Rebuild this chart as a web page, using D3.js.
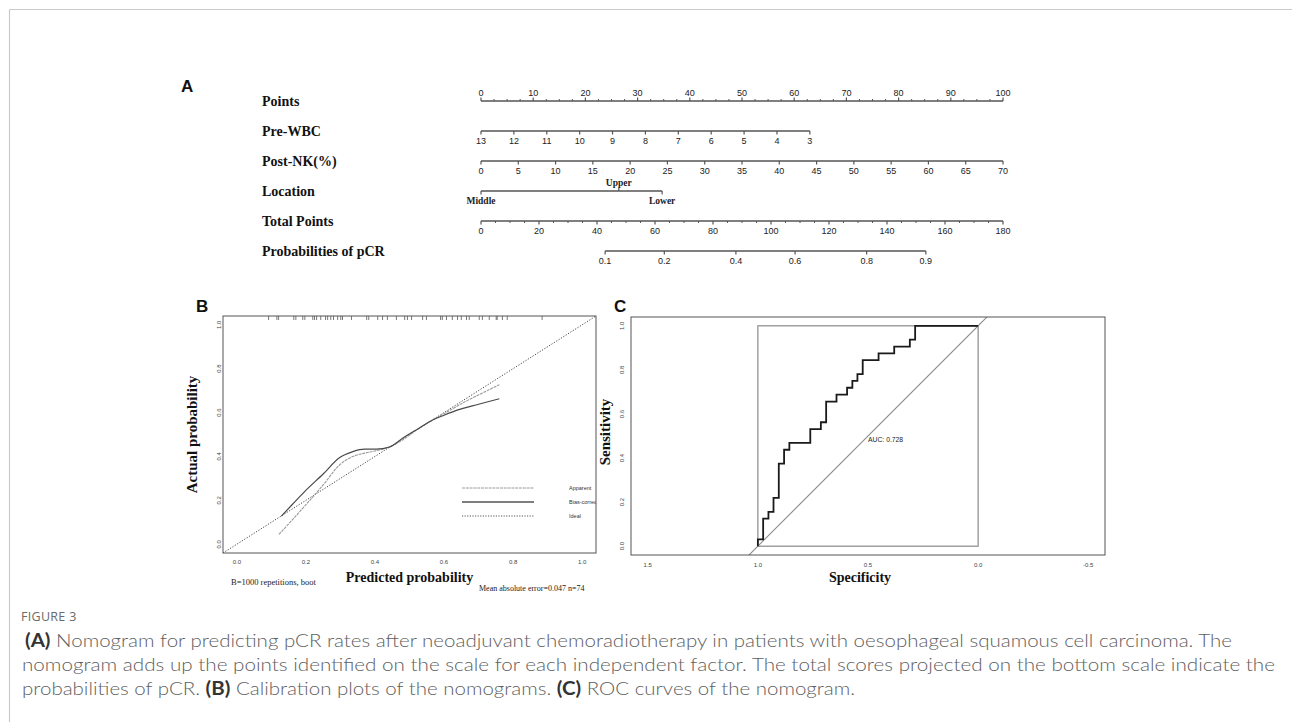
<!DOCTYPE html>
<html><head><meta charset="utf-8">
<script src="https://cdn.jsdelivr.net/npm/d3@7"></script>
<style>
html,body{margin:0;padding:0;background:#fff;}
svg{display:block;}
</style></head>
<body><svg id="chart" width="1292" height="722"></svg>
<script>
// ================= DATA =================
// Panel A: nomogram
const nomoRows = ["Points", "Pre-WBC", "Post-NK(%)", "Location", "Total Points", "Probabilities of pCR"];
const pointsTicks = [0, 10, 20, 30, 40, 50, 60, 70, 80, 90, 100];
const pointsMinorStep = 2.5;
const preWBCTicks = [13, 12, 11, 10, 9, 8, 7, 6, 5, 4, 3];
const preWBCMaxPoints = 63;          // points reached at Pre-WBC = 3
const postNKTicks = [0, 5, 10, 15, 20, 25, 30, 35, 40, 45, 50, 55, 60, 65, 70];
const postNKMaxPoints = 100;         // points reached at Post-NK = 70
const locationLevels = ["Middle", "Upper", "Lower"];
const locationPoints = [0, 26.4, 34.7];
const locationSide = ["below", "above", "below"];
const totalTicks = [0, 20, 40, 60, 80, 100, 120, 140, 160, 180];
const totalMinorStep = 5;
const probTicks = [0.1, 0.2, 0.4, 0.6, 0.8, 0.9];
const probTotalAt = [42.8, 153.4];   // total points where p = 0.1 and p = 0.9

// Panel B: calibration
const calibTicks = [0, 0.2, 0.4, 0.6, 0.8, 1.0];
const apparentX = [0.122, 0.16, 0.20, 0.25, 0.298, 0.336, 0.37, 0.40, 0.442, 0.48, 0.52, 0.56, 0.60, 0.664, 0.71, 0.76];
const apparentY = [0.045, 0.11, 0.18, 0.27, 0.362, 0.40, 0.415, 0.425, 0.443, 0.475, 0.52, 0.56, 0.595, 0.652, 0.688, 0.727];
const biasX = [0.129, 0.16, 0.197, 0.25, 0.298, 0.336, 0.37, 0.404, 0.442, 0.48, 0.529, 0.567, 0.60, 0.64, 0.70, 0.76];
const biasY = [0.128, 0.18, 0.241, 0.32, 0.395, 0.422, 0.433, 0.433, 0.443, 0.483, 0.53, 0.566, 0.588, 0.612, 0.638, 0.663];
const rugX = [0.092, 0.116, 0.121, 0.165, 0.171, 0.191, 0.197, 0.220, 0.225, 0.231, 0.243, 0.257, 0.263, 0.272, 0.280,
  0.292, 0.301, 0.306, 0.332, 0.376, 0.382, 0.408, 0.422, 0.436, 0.462, 0.486, 0.494, 0.506, 0.538, 0.549, 0.590,
  0.595, 0.607, 0.624, 0.639, 0.650, 0.665, 0.673, 0.702, 0.711, 0.731, 0.751, 0.754, 0.769, 0.783, 0.884];
const legendLabels = ["Apparent", "Bias-corrected", "Ideal"];
const calibNote = "B=1000 repetitions, boot";
const calibError = "Mean absolute error=0.047 n=74";

// Panel C: ROC
const specTicks = [1.5, 1.0, 0.5, 0.0, -0.5];
const sensTicks = [0, 0.2, 0.4, 0.6, 0.8, 1.0];
const rocSpec = [1, 1, 0.976, 0.952, 0.929, 0.905, 0.881, 0.857, 0.762, 0.714, 0.690, 0.643, 0.595, 0.571, 0.548, 0.524, 0.452, 0.381, 0.310, 0.286, 0];
const rocSens = [0, 0.031, 0.125, 0.156, 0.219, 0.375, 0.4375, 0.469, 0.531, 0.5625, 0.656, 0.6875, 0.719, 0.75, 0.781, 0.844, 0.875, 0.906, 0.9375, 1.0, 1.0];
const aucLabel = "AUC: 0.728";

// Caption
const figLabel = "FIGURE 3";
const captionLines = [
  [["b", "(A)"], ["n", " Nomogram for predicting pCR rates after neoadjuvant chemoradiotherapy in patients with oesophageal squamous cell carcinoma. The"]],
  [["n", "nomogram adds up the points identified on the scale for each independent factor. The total scores projected on the bottom scale indicate the"]],
  [["n", "probabilities of pCR. "], ["b", "(B)"], ["n", " Calibration plots of the nomograms. "], ["b", "(C)"], ["n", " ROC curves of the nomogram."]]
];

// ================= DRAW =================
const svg = d3.select("#chart");
const SERIF = "'Liberation Serif','Times New Roman',serif";
const SANS = "'Liberation Sans',Arial,sans-serif";
const CAPFONT = "Lato,'Open Sans',sans-serif";

// page border
svg.append("line").attr("x1", 9.5).attr("x2", 1292).attr("y1", 9.5).attr("y2", 9.5).attr("stroke", "#cacaca").attr("stroke-width", 1.2);
svg.append("line").attr("x1", 9.5).attr("x2", 9.5).attr("y1", 9.5).attr("y2", 722).attr("stroke", "#cacaca").attr("stroke-width", 1.2);

// panel letters
function panelLetter(t, x, y) {
  svg.append("text").attr("x", x).attr("y", y).text(t)
    .attr("font-family", SANS).attr("font-weight", "bold").attr("font-size", 17).attr("fill", "#111");
}
panelLetter("A", 181, 92);
panelLetter("B", 196, 312);
panelLetter("C", 614, 312);

// ---------- Panel A ----------
const ptsX = d3.scaleLinear().domain([0, 100]).range([481, 1003]);
const totX = d3.scaleLinear().domain([0, 180]).range([481, 1003]);
const rowY = d3.scalePoint().domain(nomoRows).range([101, 251]);
const wbcPts = d3.scaleLinear().domain([13, 3]).range([0, preWBCMaxPoints]);
const nkPts = d3.scaleLinear().domain([0, 70]).range([0, postNKMaxPoints]);
const logit = p => Math.log(p / (1 - p));
const probTot = d3.scaleLinear().domain([logit(0.1), logit(0.9)]).range(probTotalAt);

const gA = svg.append("g");
nomoRows.forEach(r => {
  gA.append("text").attr("x", 262).attr("y", rowY(r) + 5).text(r)
    .attr("font-family", SERIF).attr("font-weight", "bold").attr("font-size", 14).attr("fill", "#111");
});

const AX_COL = "#555";
function nomoAxis(y, ticks, minors, fontFamily, fontWeight, fontSize) {
  const g = gA.append("g");
  const xs = ticks.map(t => t.x);
  g.append("line").attr("x1", d3.min(xs)).attr("x2", d3.max(xs)).attr("y1", y).attr("y2", y)
    .attr("stroke", AX_COL).attr("stroke-width", 1.3);
  ticks.forEach(t => {
    const dir = t.side === "above" ? -1 : 1;
    g.append("line").attr("x1", t.x).attr("x2", t.x).attr("y1", y).attr("y2", y + dir * 3.5)
      .attr("stroke", AX_COL).attr("stroke-width", 1.2);
    g.append("text").attr("x", t.x).attr("y", t.side === "above" ? y - 5 : y + 12.5)
      .attr("text-anchor", "middle").text(t.label)
      .attr("font-family", fontFamily || SANS).attr("font-weight", fontWeight || "normal")
      .attr("font-size", fontSize || 9).attr("fill", "#222");
  });
  (minors || []).forEach(m => {
    g.append("line").attr("x1", m.x).attr("x2", m.x).attr("y1", y).attr("y2", y + m.dir * 2)
      .attr("stroke", AX_COL).attr("stroke-width", 1);
  });
}

// Points
nomoAxis(rowY("Points"),
  pointsTicks.map(v => ({x: ptsX(v), label: String(v), side: "above"})),
  d3.range(0, 100, pointsMinorStep).filter(v => v % 10 !== 0).map(v => ({x: ptsX(v), dir: -1})));
// Pre-WBC
nomoAxis(rowY("Pre-WBC"),
  preWBCTicks.map(v => ({x: ptsX(wbcPts(v)), label: String(v), side: "below"})));
// Post-NK
nomoAxis(rowY("Post-NK(%)"),
  postNKTicks.map(v => ({x: ptsX(nkPts(v)), label: String(v), side: "below"})));
// Location
nomoAxis(rowY("Location"),
  locationLevels.map((l, i) => ({x: ptsX(locationPoints[i]), label: l, side: locationSide[i]})),
  null, SERIF, "bold", 9.5);
// Total points
nomoAxis(rowY("Total Points"),
  totalTicks.map(v => ({x: totX(v), label: String(v), side: "below"})),
  d3.range(0, 180, totalMinorStep).filter(v => v % 20 !== 0).map(v => ({x: totX(v), dir: 1})));
// Probabilities
nomoAxis(rowY("Probabilities of pCR"),
  probTicks.map(p => ({x: totX(probTot(logit(p))), label: String(p), side: "below"})));

// ---------- Panel B ----------
const bx = d3.scaleLinear().domain([-0.04, 1.04]).range([223, 596]);
const by = d3.scaleLinear().domain([-0.04, 1.04]).range([553, 316]);
const gB = svg.append("g");
svg.append("clipPath").attr("id", "clipB").append("rect")
  .attr("x", 223).attr("y", 316).attr("width", 373).attr("height", 237);

const gBc = gB.append("g").attr("clip-path", "url(#clipB)");
// ideal
gBc.append("line").attr("x1", bx(-0.04)).attr("y1", by(-0.04)).attr("x2", bx(1.04)).attr("y2", by(1.04))
  .attr("stroke", "#444").attr("stroke-width", 1).attr("stroke-dasharray", "1.2,1.6");
const lineB = d3.line().x(d => bx(d[0])).y(d => by(d[1])).curve(d3.curveMonotoneX);
gBc.append("path").attr("d", lineB(apparentX.map((x, i) => [x, apparentY[i]])))
  .attr("fill", "none").attr("stroke", "#9a9a9a").attr("stroke-width", 1.1).attr("stroke-dasharray", "3,0.8");
gBc.append("path").attr("d", lineB(biasX.map((x, i) => [x, biasY[i]])))
  .attr("fill", "none").attr("stroke", "#4a4a4a").attr("stroke-width", 1.2);
// rug
rugX.forEach(r => {
  gBc.append("line").attr("x1", bx(r)).attr("x2", bx(r)).attr("y1", 316).attr("y2", 320)
    .attr("stroke", "#555").attr("stroke-width", 0.8);
});
// legend
const legStyles = [
  {stroke: "#9a9a9a", w: 1, dash: "3,0.8"},
  {stroke: "#555", w: 1.3, dash: null},
  {stroke: "#555", w: 1, dash: "1.2,1.4"}
];
legendLabels.forEach((l, i) => {
  const y = 488 + i * 14;
  const ln = gBc.append("line").attr("x1", 462).attr("x2", 534).attr("y1", y).attr("y2", y)
    .attr("stroke", legStyles[i].stroke).attr("stroke-width", legStyles[i].w);
  if (legStyles[i].dash) ln.attr("stroke-dasharray", legStyles[i].dash);
  gBc.append("text").attr("x", 569).attr("y", y + 2).text(l)
    .attr("font-family", SANS).attr("font-size", 5.5).attr("fill", "#333");
});
// frame
gB.append("rect").attr("x", 223).attr("y", 316).attr("width", 373).attr("height", 237)
  .attr("fill", "none").attr("stroke", "#555").attr("stroke-width", 1);
// ticks labels
calibTicks.forEach(t => {
  gB.append("text").attr("x", bx(t)).attr("y", 563.5).attr("text-anchor", "middle").text(t.toFixed(1))
    .attr("font-family", SANS).attr("font-size", 6).attr("fill", "#444");
  gB.append("text").attr("transform", `translate(221,${by(t)}) rotate(-90)`).attr("text-anchor", "middle").text(t.toFixed(1))
    .attr("font-family", SANS).attr("font-size", 6).attr("fill", "#444");
});
gB.append("text").attr("transform", `translate(197,${(316 + 553) / 2}) rotate(-90)`).attr("text-anchor", "middle")
  .text("Actual probability").attr("font-family", SERIF).attr("font-weight", "bold").attr("font-size", 15).attr("fill", "#111");
gB.append("text").attr("x", (223 + 596) / 2).attr("y", 582).attr("text-anchor", "middle")
  .text("Predicted probability").attr("font-family", SERIF).attr("font-weight", "bold").attr("font-size", 14).attr("fill", "#111");
gB.append("text").attr("x", 231).attr("y", 585).text(calibNote)
  .attr("font-family", SERIF).attr("font-size", 8.5).attr("fill", "#222");
gB.append("text").attr("x", 479).attr("y", 591).text(calibError)
  .attr("font-family", SERIF).attr("font-size", 8).attr("fill", "#222");

// ---------- Panel C ----------
const cL = 631, cR = 1105, cT = 317, cB = 555;
const cx = d3.scaleLinear().domain([1.576, -0.576]).range([cL, cR]);
const cy = d3.scaleLinear().domain([-0.04, 1.04]).range([cB, cT]);
const gC = svg.append("g");
svg.append("clipPath").attr("id", "clipC").append("rect")
  .attr("x", cL).attr("y", cT).attr("width", cR - cL).attr("height", cB - cT);
const gCc = gC.append("g").attr("clip-path", "url(#clipC)");
// reference square
gCc.append("rect").attr("x", cx(1)).attr("y", cy(1)).attr("width", cx(0) - cx(1)).attr("height", cy(0) - cy(1))
  .attr("fill", "none").attr("stroke", "#8a8a8a").attr("stroke-width", 1.2);
// diagonal
gCc.append("line").attr("x1", cx(1.05)).attr("y1", cy(-0.05)).attr("x2", cx(-0.05)).attr("y2", cy(1.05))
  .attr("stroke", "#8a8a8a").attr("stroke-width", 1.1);
// ROC curve
const rocLine = d3.line().x(d => cx(d[0])).y(d => cy(d[1])).curve(d3.curveStepAfter);
gCc.append("path").attr("d", rocLine(rocSpec.map((s, i) => [s, rocSens[i]])))
  .attr("fill", "none").attr("stroke", "#1a1a1a").attr("stroke-width", 1.8);
gCc.append("text").attr("x", cx(0.5)).attr("y", cy(0.485) + 2.5).text(aucLabel)
  .attr("font-family", SANS).attr("font-size", 6.8).attr("fill", "#222");
// frame
gC.append("rect").attr("x", cL).attr("y", cT).attr("width", cR - cL).attr("height", cB - cT)
  .attr("fill", "none").attr("stroke", "#555").attr("stroke-width", 1);
specTicks.forEach(t => {
  gC.append("text").attr("x", cx(t)).attr("y", 567).attr("text-anchor", "middle").text(t.toFixed(1))
    .attr("font-family", SANS).attr("font-size", 6).attr("fill", "#444");
});
sensTicks.forEach(t => {
  gC.append("text").attr("transform", `translate(623.5,${cy(t)}) rotate(-90)`).attr("text-anchor", "middle").text(t.toFixed(1))
    .attr("font-family", SANS).attr("font-size", 6).attr("fill", "#444");
});
gC.append("text").attr("transform", `translate(610,${(cT + cB) / 2 - 4}) rotate(-90)`).attr("text-anchor", "middle")
  .text("Sensitivity").attr("font-family", SERIF).attr("font-weight", "bold").attr("font-size", 15).attr("fill", "#111");
gC.append("text").attr("x", 860).attr("y", 582).attr("text-anchor", "middle")
  .text("Specificity").attr("font-family", SERIF).attr("font-weight", "bold").attr("font-size", 14).attr("fill", "#111");

// ---------- Caption ----------
svg.append("text").attr("x", 21).attr("y", 621).text(figLabel)
  .attr("font-family", "'Open Sans',sans-serif").attr("font-size", 12.5).attr("fill", "#6a6a6a").attr("letter-spacing", 0.3);
const capX = [25, 22, 22];
const capW = [1207, 1253, 833];
captionLines.forEach((segs, i) => {
  const t = svg.append("text").attr("x", capX[i]).attr("y", 647 + i * 24)
    .attr("font-family", CAPFONT).attr("font-weight", 300).attr("font-size", 18).attr("fill", "#606060")
    .attr("textLength", capW[i]).attr("lengthAdjust", "spacingAndGlyphs");
  segs.forEach(s => {
    t.append("tspan").text(s[1]).attr("font-weight", s[0] === "b" ? 700 : 300).attr("fill", s[0] === "b" ? "#333" : "#606060");
  });
});
</script>
</body></html>
